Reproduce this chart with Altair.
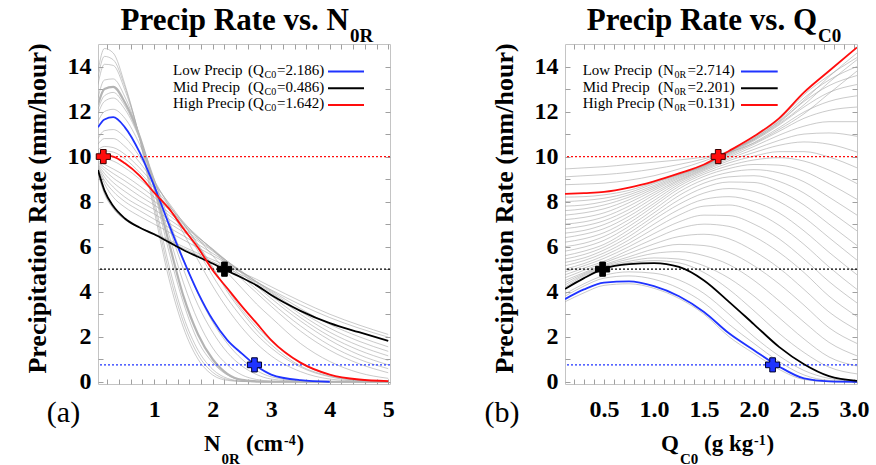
import altair as alt
import pandas as pd

SERIF = "Liberation Serif"
BLUE, BLACK, RED = "#1f33ff", "#000000", "#ff0d0d"
GRAY = "#a6a6a6"
SERIES = ["Low Precip", "Mid Precip", "High Precip"]
TARGETS = [0.75, 5.0, 10.0]

# ---------------- (a) precipitation rate against N0R, one curve per QC0 ----------------
a_n0r = [0.04, 0.15, 0.3, 0.5, 0.75, 1.0, 1.25, 1.5, 1.75, 2.0, 2.25, 2.5, 2.75, 3.0, 3.5, 4.0, 4.5, 5.0]

a_m01 = [9.25, 8.35, 7.7, 7.2, 6.85, 6.58, 6.3, 6.0, 5.7, 5.42, 5.14, 4.85, 4.55, 4.22, 3.58, 3.0, 2.52, 2.1]
a_m02 = [9.3, 8.4, 7.72, 7.2, 6.85, 6.56, 6.25, 5.92, 5.62, 5.33, 5.03, 4.73, 4.42, 4.08, 3.42, 2.85, 2.38, 1.98]
a_m03 = [9.5, 8.8, 8.2, 7.75, 7.35, 7.0, 6.65, 6.3, 5.95, 5.6, 5.25, 4.85, 4.45, 4.05, 3.25, 2.55, 2.0, 1.55]
a_m04 = [9.55, 8.95, 8.45, 8.0, 7.6, 7.22, 6.85, 6.48, 6.1, 5.7, 5.3, 4.88, 4.45, 4.0, 3.12, 2.38, 1.8, 1.35]
a_m05 = [9.6, 9.1, 8.65, 8.2, 7.8, 7.45, 7.05, 6.65, 6.25, 5.8, 5.35, 4.9, 4.4, 3.95, 3.0, 2.2, 1.6, 1.15]
a_m06 = [9.65, 9.25, 8.85, 8.45, 8.02, 7.65, 7.22, 6.78, 6.32, 5.85, 5.35, 4.85, 4.32, 3.82, 2.85, 2.02, 1.4, 0.95]
a_m07 = [9.7, 9.4, 9.05, 8.7, 8.25, 7.85, 7.4, 6.9, 6.4, 5.9, 5.35, 4.8, 4.25, 3.7, 2.7, 1.85, 1.2, 0.75]
a_m08 = [9.75, 9.52, 9.25, 8.92, 8.48, 8.02, 7.52, 6.98, 6.42, 5.88, 5.28, 4.68, 4.1, 3.52, 2.48, 1.62, 1.0, 0.58]
a_m09 = [9.8, 9.65, 9.45, 9.15, 8.7, 8.2, 7.65, 7.05, 6.45, 5.85, 5.2, 4.55, 3.95, 3.35, 2.25, 1.4, 0.8, 0.4]
a_m10 = [9.9, 9.9, 9.8, 9.5, 9.0, 8.4, 7.8, 7.1, 6.35, 5.6, 4.85, 4.15, 3.45, 2.85, 1.7, 0.9, 0.4, 0.15]
a_m11 = [10.15, 10.25, 10.2, 9.9, 9.3, 8.6, 7.85, 7.0, 6.05, 5.05, 4.1, 3.2, 2.45, 1.8, 0.82, 0.3, 0.08, 0.02]
a_m12 = [10.3, 10.45, 10.4, 10.1, 9.5, 8.75, 7.95, 7.05, 6.1, 5.1, 4.0, 3.1, 2.3, 1.65, 0.7, 0.25, 0.07, 0.02]
a_m13 = [10.55, 10.8, 10.8, 10.45, 9.75, 8.85, 7.9, 6.85, 5.8, 4.7, 3.7, 2.85, 2.1, 1.5, 0.65, 0.22, 0.05, 0.01]
a_m14 = [10.8, 11.15, 11.2, 10.85, 10.0, 8.95, 7.8, 6.6, 5.4, 4.25, 3.25, 2.4, 1.7, 1.15, 0.45, 0.12, 0.03, 0.0]
a_m15 = [11.55, 12.0, 12.1, 11.7, 10.55, 9.0, 7.2, 5.45, 3.9, 2.65, 1.7, 1.0, 0.5, 0.22, 0.04, 0.0, 0.0, 0.0]
a_m16 = [11.9, 12.45, 12.6, 12.1, 10.8, 9.0, 6.9, 5.0, 3.4, 2.2, 1.3, 0.7, 0.32, 0.12, 0.02, 0.0, 0.0, 0.0]
a_m17 = [12.1, 12.7, 12.85, 12.25, 10.85, 8.85, 6.55, 4.4, 2.7, 1.5, 0.75, 0.3, 0.1, 0.03, 0.0, 0.0, 0.0, 0.0]
a_m18 = [12.6, 13.4, 13.45, 12.65, 10.9, 8.5, 5.8, 3.5, 1.8, 0.85, 0.3, 0.07, 0.01, 0.0, 0.0, 0.0, 0.0, 0.0]
a_m19 = [13.2, 14.1, 14.05, 12.95, 10.9, 8.1, 5.2, 2.9, 1.4, 0.55, 0.15, 0.03, 0.0, 0.0, 0.0, 0.0, 0.0, 0.0]
a_m20 = [13.5, 14.45, 14.3, 13.1, 10.85, 7.85, 4.9, 2.65, 1.2, 0.42, 0.1, 0.02, 0.0, 0.0, 0.0, 0.0, 0.0, 0.0]
a_m21 = [13.8, 14.8, 14.6, 13.2, 10.8, 7.6, 4.6, 2.4, 1.0, 0.3, 0.06, 0.01, 0.0, 0.0, 0.0, 0.0, 0.0, 0.0]
a_ensemble = [a_m01, a_m02, a_m03, a_m04, a_m05, a_m06, a_m07, a_m08, a_m09, a_m10, a_m11,
              a_m12, a_m13, a_m14, a_m15, a_m16, a_m17, a_m18, a_m19, a_m20, a_m21]
a_emphasis = [12.3, 13.0, 13.1, 12.4, 10.9, 8.7, 6.2, 3.8, 2.1, 1.0, 0.35, 0.08, 0.02, 0.0, 0.0, 0.0, 0.0, 0.0]

a_low = [11.3, 11.65, 11.75, 11.3, 10.2, 8.7, 7.0, 5.4, 3.95, 2.75, 1.85, 1.25, 0.7, 0.32, 0.07, 0.0]   # QC0 = 2.186
a_mid = [9.4, 8.5, 7.8, 7.25, 6.85, 6.55, 6.2, 5.85, 5.55, 5.25, 4.92, 4.62, 4.28, 3.85, 3.15, 2.6, 2.2, 1.82]   # QC0 = 0.486
a_high = [10.0, 10.05, 10.0, 9.7, 9.15, 8.4, 7.7, 6.8, 5.95, 4.95, 4.15, 3.35, 2.6, 1.85, 0.85, 0.32, 0.1, 0.03]  # QC0 = 1.642
a_hits = [2.714, 2.201, 0.131]

# ---------------- (b) precipitation rate against QC0, one curve per N0R ----------------
b_qc0 = [0.11, 0.3, 0.5, 0.75, 1.0, 1.25, 1.5, 1.75, 2.0, 2.25, 2.5, 2.75, 3.03]

b_m01 = [9.45, 9.5, 9.55, 9.65, 9.75, 9.85, 9.98, 10.2, 10.6, 11.2, 11.9, 12.8, 13.8]
b_m02 = [9.1, 9.15, 9.2, 9.3, 9.45, 9.65, 9.9, 10.25, 10.75, 11.45, 12.3, 13.3, 14.3]
b_m03 = [8.75, 8.78, 8.82, 8.95, 9.15, 9.45, 9.8, 10.25, 10.8, 11.55, 12.5, 13.55, 14.6]
b_m04 = [8.2, 8.22, 8.3, 8.5, 8.85, 9.22, 9.62, 10.2, 10.84, 11.64, 12.75, 13.6, 14.4]
b_m05 = [8.0, 8.05, 8.15, 8.4, 8.8, 9.2, 9.6, 10.18, 10.8, 11.58, 12.6, 13.4, 14.0]
b_m06 = [7.8, 7.85, 8.0, 8.3, 8.72, 9.17, 9.58, 10.15, 10.75, 11.5, 12.45, 13.15, 13.6]
b_m07 = [7.6, 7.68, 7.85, 8.2, 8.65, 9.13, 9.56, 10.12, 10.7, 11.4, 12.2, 12.85, 13.2]
b_m08 = [7.4, 7.5, 7.68, 8.08, 8.58, 9.08, 9.53, 10.08, 10.62, 11.28, 11.98, 12.45, 12.7]
b_m09 = [7.2, 7.3, 7.5, 7.95, 8.5, 9.03, 9.5, 10.03, 10.55, 11.12, 11.7, 12.05, 12.2]
b_m10 = [7.0, 7.1, 7.32, 7.8, 8.4, 8.97, 9.46, 9.97, 10.45, 10.95, 11.35, 11.55, 11.55]
b_m11 = [6.8, 6.92, 7.15, 7.65, 8.3, 8.92, 9.42, 9.9, 10.32, 10.72, 11.0, 11.05, 10.9]
b_m12 = [6.6, 6.72, 6.98, 7.5, 8.18, 8.85, 9.37, 9.82, 10.18, 10.5, 10.65, 10.55, 10.2]
b_m13 = [6.4, 6.55, 6.8, 7.35, 8.05, 8.77, 9.3, 9.72, 10.02, 10.22, 10.22, 9.98, 9.5]
b_m14 = [6.2, 6.35, 6.62, 7.2, 7.92, 8.68, 9.22, 9.6, 9.85, 9.95, 9.8, 9.4, 8.8]
b_m15 = [6.0, 6.15, 6.45, 7.05, 7.8, 8.57, 9.12, 9.47, 9.65, 9.62, 9.35, 8.8, 8.1]
b_m16 = [5.8, 5.98, 6.28, 6.9, 7.65, 8.43, 8.98, 9.3, 9.42, 9.28, 8.88, 8.2, 7.4]
b_m17 = [5.6, 5.8, 6.1, 6.75, 7.5, 8.27, 8.82, 9.1, 9.15, 8.9, 8.38, 7.6, 6.7]
b_m18 = [5.45, 5.65, 5.98, 6.6, 7.35, 8.08, 8.62, 8.87, 8.85, 8.48, 7.85, 7.0, 6.05]
b_m19 = [5.3, 5.5, 5.85, 6.45, 7.2, 7.88, 8.38, 8.58, 8.45, 8.0, 7.3, 6.4, 5.4]
b_m20 = [5.15, 5.38, 5.72, 6.3, 7.0, 7.65, 8.1, 8.22, 8.0, 7.5, 6.7, 5.75, 4.75]
b_m21 = [5.0, 5.25, 5.6, 6.15, 6.8, 7.4, 7.8, 7.85, 7.55, 6.95, 6.1, 5.1, 4.1]
b_m22 = [4.88, 5.15, 5.48, 6.0, 6.58, 7.1, 7.4, 7.38, 7.0, 6.35, 5.45, 4.45, 3.5]
b_m23 = [4.75, 5.05, 5.35, 5.85, 6.35, 6.8, 7.0, 6.9, 6.45, 5.75, 4.85, 3.8, 2.9]
b_m24 = [4.62, 4.95, 5.28, 5.7, 6.12, 6.45, 6.55, 6.35, 5.8, 5.05, 4.1, 3.1, 2.3]
b_m25 = [4.5, 4.85, 5.2, 5.55, 5.9, 6.1, 6.05, 5.75, 5.15, 4.35, 3.4, 2.4, 1.7]
b_m26 = [4.4, 4.8, 5.15, 5.45, 5.7, 5.78, 5.6, 5.2, 4.5, 3.6, 2.65, 1.75, 1.15]
b_m27 = [4.3, 4.75, 5.1, 5.35, 5.5, 5.45, 5.15, 4.6, 3.8, 2.85, 1.9, 1.1, 0.7]
b_m28 = [4.2, 4.7, 5.05, 5.28, 5.38, 5.28, 4.85, 4.1, 3.15, 2.15, 1.3, 0.65, 0.35]
b_m29 = [3.9, 4.35, 4.72, 4.88, 4.82, 4.52, 3.92, 3.0, 2.0, 1.15, 0.5, 0.15, 0.03]
b_m30 = [3.8, 4.25, 4.6, 4.7, 4.55, 4.15, 3.5, 2.55, 1.7, 0.9, 0.3, 0.06, 0.01]
b_m31 = [3.55, 3.95, 4.28, 4.35, 4.15, 3.7, 3.0, 2.0, 1.25, 0.55, 0.1, 0.01, 0.0]
b_ensemble = [b_m01, b_m02, b_m03, b_m04, b_m05, b_m06, b_m07, b_m08, b_m09, b_m10, b_m11,
              b_m12, b_m13, b_m14, b_m15, b_m16, b_m17, b_m18, b_m19, b_m20, b_m21, b_m22,
              b_m23, b_m24, b_m25, b_m26, b_m27, b_m28, b_m29, b_m30, b_m31]

b_low = [3.67, 4.1, 4.4, 4.46, 4.25, 3.8, 3.1, 2.15, 1.4, 0.68, 0.15, 0.02, 0.0]           # N0R = 2.714
b_mid = [4.12, 4.6, 5.02, 5.22, 5.27, 5.1, 4.5, 3.55, 2.55, 1.55, 0.78, 0.25, 0.04]        # N0R = 2.201
b_high = [8.34, 8.38, 8.43, 8.62, 8.9, 9.25, 9.65, 10.25, 10.9, 11.7, 12.85, 13.8, 14.85]  # N0R = 0.131
b_hits = [2.186, 0.486, 1.642]


# ---------------- helpers ----------------
ONE = pd.DataFrame({"k": [0]})
COLOR = alt.Scale(domain=SERIES, range=[BLUE, BLACK, RED])
EDGE = alt.Scale(domain=SERIES, range=["#00002a", "#000000", "#3a0000"])
Y_SCALE = alt.Scale(domain=[-0.1, 15.0], nice=False, zero=False)
Y_TICKS = list(range(0, 15))

TICKS = dict(domain=False, grid=False, ticks=True, tickSize=5, tickColor="#a0a0a0",
             tickWidth=1, offset=-5, title=None)
LABELS = dict(labelOverlap=False, labelFlush=False, labelFont=SERIF, labelFontSize=24,
              labelFontWeight="bold", labelColor="black")


def ensemble_frame(xs, curves):
    rows = []
    for i, ys in enumerate(curves):
        for x, y in zip(xs, ys):
            rows.append({"x": x, "rate": y, "member": i})
    return pd.DataFrame(rows)


def series_frame(xs, curves):
    rows = []
    for name, ys in zip(SERIES, curves):
        for x, y in zip(xs, ys):
            rows.append({"x": x, "rate": y, "series": name})
    return pd.DataFrame(rows)


def txt(s, x, y, size, weight="normal", align="left", angle=0):
    kw = dict(text=s, font=SERIF, fontSize=size, fontWeight=weight, align=align,
              baseline="alphabetic", color="black")
    if angle:
        kw["angle"] = angle
    return alt.Chart(ONE).mark_text(**kw).encode(x=alt.value(x), y=alt.value(y))


def swatch(color, x1, x2, y):
    return alt.Chart(ONE).mark_rule(color=color, strokeWidth=2).encode(
        x=alt.value(x1), x2=alt.value(x2), y=alt.value(y))


def panel(xs, ensemble, emphasis, curves, hits, x_domain, x_ticks, x_expr, annotations):
    xsc = alt.Scale(domain=x_domain, nice=False, zero=False)
    ax_bottom = alt.Axis(orient="bottom", values=x_ticks, labelExpr=x_expr,
                         labelPadding=32, labelBaseline="alphabetic", **TICKS, **LABELS)
    ax_left = alt.Axis(orient="left", values=Y_TICKS,
                       labelExpr="datum.value % 2 === 0 ? format(datum.value, 'd') : ''",
                       labelPadding=7, **TICKS, **LABELS)
    ax_top = alt.Axis(orient="top", values=x_ticks, labels=False, **TICKS)
    ax_right = alt.Axis(orient="right", values=Y_TICKS, labels=False, **TICKS)

    layers = [
        alt.Chart(ensemble_frame(xs, ensemble)).mark_line(
            color=GRAY, strokeWidth=0.7, opacity=0.85, interpolate="monotone", clip=True
        ).encode(x=alt.X("x:Q", scale=xsc, axis=ax_bottom),
                 y=alt.Y("rate:Q", scale=Y_SCALE, axis=ax_left),
                 detail="member:N"),
    ]
    if emphasis:
        layers.append(
            alt.Chart(ensemble_frame(xs, [emphasis])).mark_line(
                color="#b4b4b4", strokeWidth=2.2, interpolate="monotone", clip=True
            ).encode(x=alt.X("x:Q", scale=xsc, axis=None),
                     y=alt.Y("rate:Q", scale=Y_SCALE, axis=None)))
    # dotted target levels
    targets = pd.DataFrame({"level": TARGETS, "series": SERIES})
    layers.append(
        alt.Chart(targets).mark_rule(strokeDash=[2, 2], strokeWidth=1.3).encode(
            y=alt.Y("level:Q", scale=Y_SCALE, axis=None),
            color=alt.Color("series:N", scale=COLOR, legend=None)))
    # the three highlighted members
    layers.append(
        alt.Chart(series_frame(xs, curves)).mark_line(
            strokeWidth=1.8, interpolate="monotone", clip=True
        ).encode(x=alt.X("x:Q", scale=xsc, axis=ax_top),
                 y=alt.Y("rate:Q", scale=Y_SCALE, axis=ax_right),
                 color=alt.Color("series:N", scale=COLOR, legend=None)))
    marks = pd.DataFrame({"x": hits, "rate": TARGETS, "series": SERIES})
    layers.append(
        alt.Chart(marks).mark_point(shape="cross", filled=True, size=200, strokeWidth=1, opacity=1).encode(
            x=alt.X("x:Q", scale=xsc, axis=None),
            y=alt.Y("rate:Q", scale=Y_SCALE, axis=None),
            fill=alt.Fill("series:N", scale=COLOR, legend=None),
            stroke=alt.Stroke("series:N", scale=EDGE, legend=None)))
    layers.extend(annotations)
    return alt.layer(*layers).resolve_axis(x="independent", y="independent").properties(
        width=292, height=340)


ROWS = [31, 47.7, 64.4]
YTITLE = "Precipitation Rate (mm/hour)"

# ---------------- panel (a) ----------------
a_text = [
    txt("Precip Rate vs. N", 251, -14, 31, "bold", "right"),
    txt("0R", 252, -2.5, 19, "bold"),
    txt(YTITLE, -52, 164.5, 26, "bold", "center", angle=270),
    txt("N", 106, 407, 23, "bold"),
    txt("0R", 123.6, 419.5, 15, "bold"),
    txt("(cm", 148, 407, 23, "bold"),
    txt("-4", 186, 401, 14, "bold"),
    txt(")", 198.5, 407, 23, "bold"),
    txt("(a)", -34.5, 378, 30, "normal", "center"),
]
for row, (name, val, col) in enumerate(zip(SERIES, ["=2.186)", "=0.486)", "=1.642)"], [BLUE, BLACK, RED])):
    yb = ROWS[row]
    a_text += [
        txt(name, 75, yb, 15),
        txt("(Q", 150, yb, 15),
        txt("C0", 166.5, yb + 3, 10),
        txt(val, 179, yb, 15),
        swatch(col, 230, 266, yb - 3.5),
    ]
# keeps the page origin fixed to the left of the first plot
a_text.append(alt.Chart(ONE).mark_point(opacity=0, size=1).encode(x=alt.value(-97), y=alt.value(-43)))

left = panel(a_n0r, a_ensemble, a_emphasis, [a_low, a_mid, a_high], a_hits,
             [0.04, 5.03], [round(0.2 * i, 1) for i in range(1, 26)],
             "abs(datum.value - round(datum.value)) < 0.001 ? format(datum.value, 'd') : ''",
             a_text)

# ---------------- panel (b) ----------------
b_text = [
    txt("Precip Rate vs. Q", 252, -14, 31, "bold", "right"),
    txt("C0", 253, -2.5, 19, "bold"),
    txt(YTITLE, -52, 164.5, 26, "bold", "center", angle=270),
    txt("Q", 96, 407, 23, "bold"),
    txt("C0", 115, 419.5, 15, "bold"),
    txt("(g kg", 139, 407, 23, "bold"),
    txt("-1", 189, 401, 14, "bold"),
    txt(")", 201.5, 407, 23, "bold"),
    txt("(b)", -63, 378, 30, "normal", "center"),
]
for row, (name, val, col) in enumerate(zip(SERIES, ["=2.714)", "=2.201)", "=0.131)"], [BLUE, BLACK, RED])):
    yb = ROWS[row]
    b_text += [
        txt(name, 17.7, yb, 15),
        txt("(N", 93, yb, 15),
        txt("0R", 109.5, yb + 3, 10),
        txt(val, 122.5, yb, 15),
        swatch(col, 176, 212.7, yb - 3.5),
    ]

right = panel(b_qc0, b_ensemble, None, [b_low, b_mid, b_high], b_hits,
              [0.11, 3.03], [round(0.1 * i, 1) for i in range(2, 31)],
              "abs(datum.value * 2 - round(datum.value * 2)) < 0.001 ? format(datum.value, '.1f') : ''",
              b_text)

chart = alt.hconcat(left, right, spacing=175, bounds="flush", padding=0).configure_view(
    stroke="#c4c4c4", strokeWidth=1)

chart.save("out.html", embed_options={"renderer": "svg", "actions": False})
